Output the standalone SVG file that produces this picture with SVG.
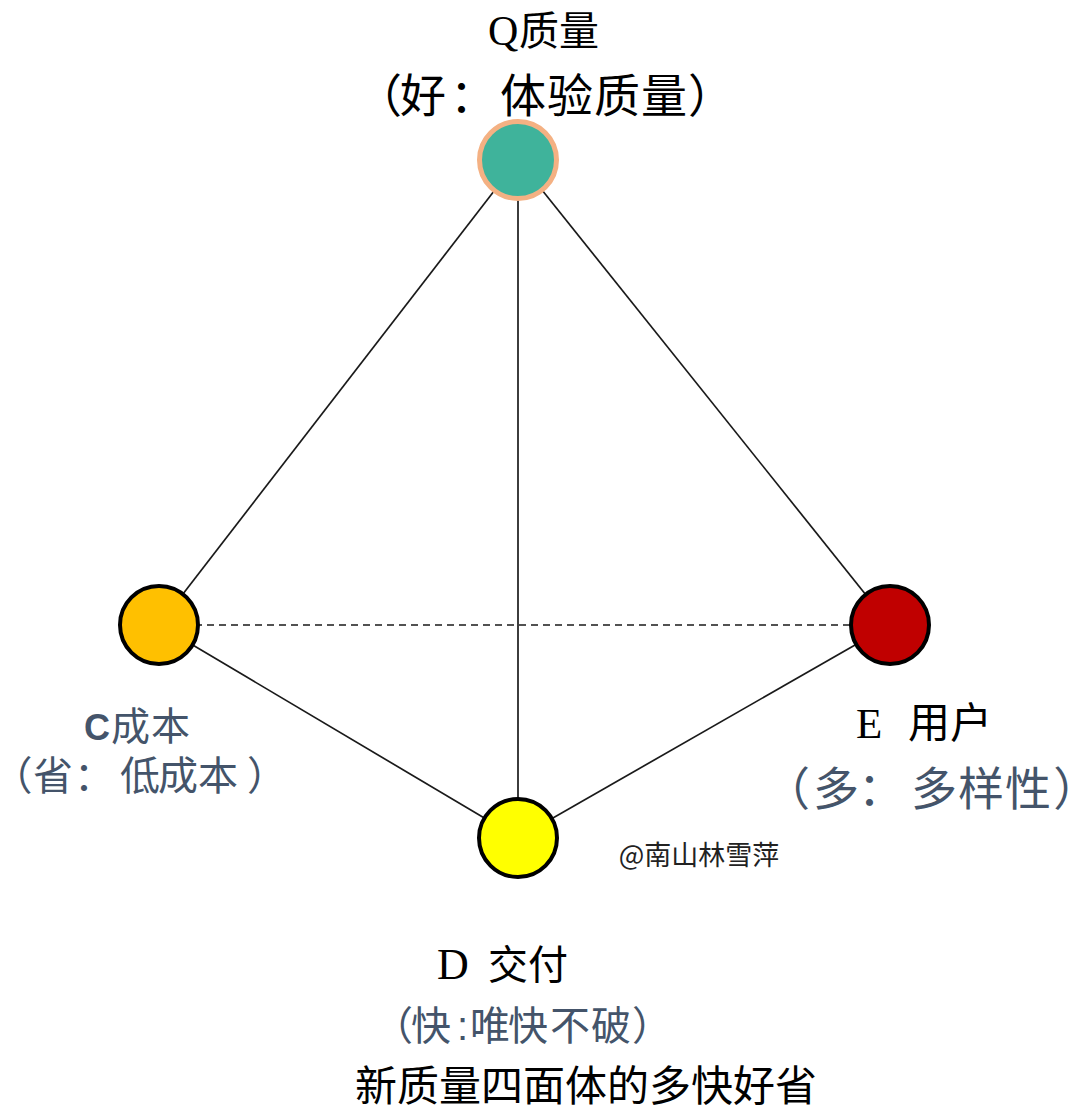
<svg xmlns="http://www.w3.org/2000/svg" width="1080" height="1113" viewBox="0 0 1080 1113">
<style>
text{text-spacing-trim:space-all}
.edge{stroke:#1a1a1a;stroke-width:1.7;fill:none}
.dash{stroke-dasharray:7,5}
.node{stroke:#000;stroke-width:4}
.serif{font-family:"Liberation Serif","Noto Sans CJK SC",serif;fill:#000}
.slate{font-family:"Liberation Sans","Noto Sans CJK SC",sans-serif;fill:#44546A}
.palt{font-feature-settings:"palt"}
</style>
<rect width="1080" height="1113" fill="#fff"/>
<g id="connectors">
<line class="edge" x1="518" y1="160" x2="159" y2="625"/>
<line class="edge" x1="518" y1="160" x2="890" y2="625"/>
<line class="edge" x1="518" y1="160" x2="518" y2="838"/>
<line class="edge" x1="159" y1="625" x2="518" y2="838"/>
<line class="edge" x1="890" y1="625" x2="518" y2="838"/>
<line class="edge dash" x1="159" y1="625" x2="890" y2="625"/>
</g>
<g id="node-Q">
<circle cx="518" cy="160" r="38.5" fill="#3FB39B" stroke="#F4B183" stroke-width="5"/>
<text class="serif" y="45" font-size="40"><tspan x="488" font-size="42">Q</tspan><tspan x="519 559">质量</tspan></text>
<text class="serif" y="112" font-size="46" x="356 400 450 500 547 594 641 688">（好：体验质量）</text>
</g>
<g id="node-C">
<circle class="node" cx="159" cy="625" r="39" fill="#FFC000"/>
<text class="slate" y="740" font-size="39"><tspan x="84" font-weight="bold" font-size="36">C</tspan><tspan x="111 151">成本</tspan></text>
<text class="slate" y="790" font-size="40"><tspan x="11" class="palt">（</tspan><tspan x="33 74 120 158 198 247">省：低成本）</tspan></text>
</g>
<g id="node-E">
<circle class="node" cx="890" cy="625" r="39" fill="#C00000"/>
<text class="serif" y="738" font-size="42"><tspan x="856" font-size="43">E</tspan><tspan x="908 950">用户</tspan></text>
<text class="slate" y="805" font-size="46"><tspan x="764 813 858 911 958 1005">（多：多样性</tspan><tspan x="1055" class="palt">）</tspan></text>
</g>
<g id="node-D">
<circle class="node" cx="518" cy="838" r="39" fill="#FFFF00"/>
<text class="serif" y="979" font-size="40"><tspan x="437" font-size="44">D</tspan><tspan x="488 528">交付</tspan></text>
<text class="slate" y="1040" font-size="40" x="373 411 457 470 508 550 591 632">（快:唯快不破）</text>
</g>
<text x="699" y="865" font-family="'Noto Sans CJK SC',sans-serif" font-size="27" fill="#222" text-anchor="middle">@南山林雪萍</text>
<text class="serif" y="1101" font-size="42" x="355 397 439 481 523 565 607 649 691 733 775">新质量四面体的多快好省</text>
</svg>
